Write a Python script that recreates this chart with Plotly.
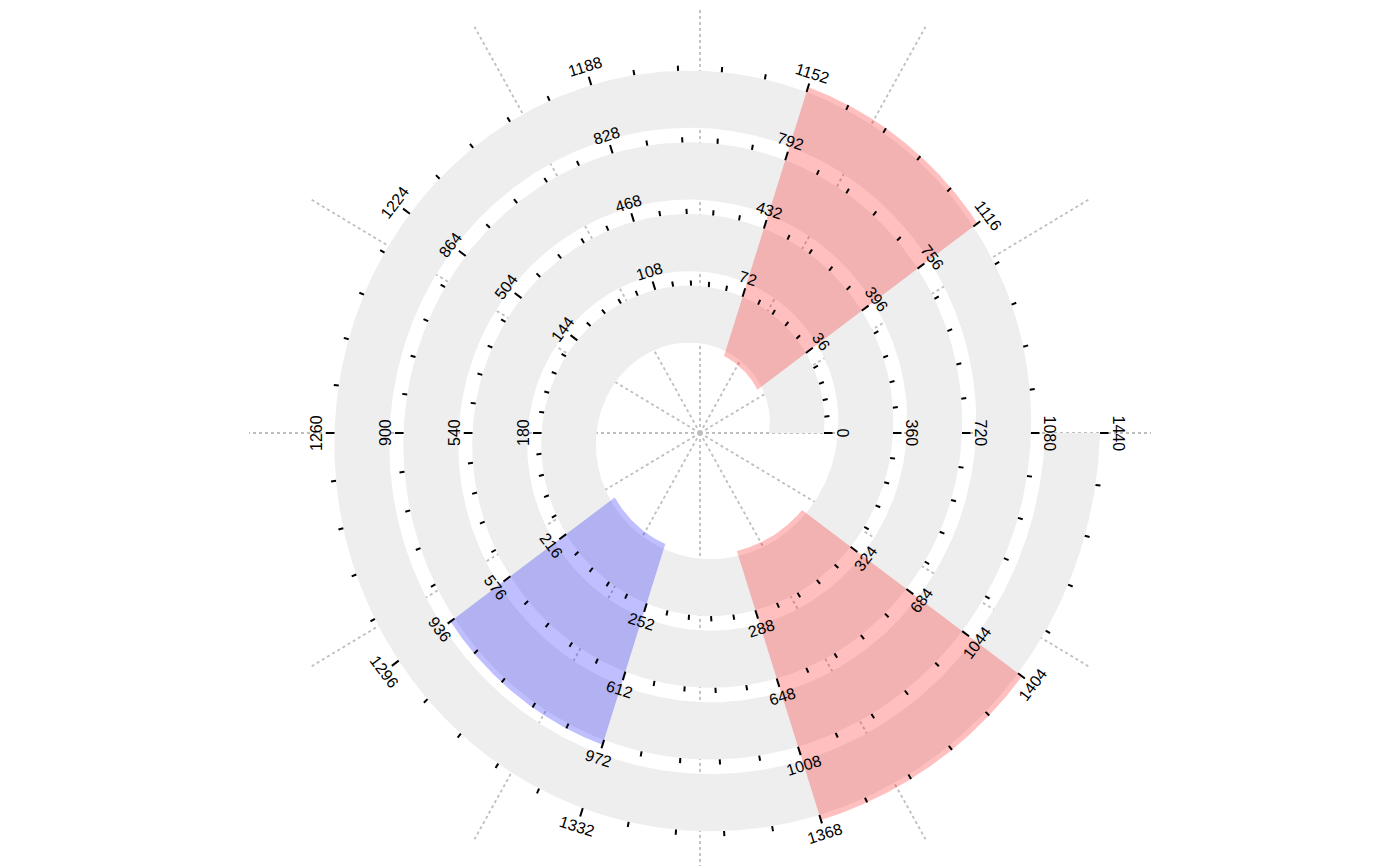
import numpy as np
import plotly.graph_objects as go

# ---------------- data ----------------
x_start, x_end = 0, 1440                      # spiral data range (4 loops of 360)
major_ticks = list(range(0, 1441, 36))        # labelled ticks
tick_labels = [str(v) for v in major_ticks]
minor_tick_step = 7.2                         # 4 minor ticks between labelled ones
grid_angles = list(range(0, 360, 30))         # dotted radial guide lines (degrees)

hl_inner_from = [36, 216, 288]                # highlighted sectors: start/end on inner loop
hl_inner_to = [72, 252, 324]
hl_outer_from = [1116, 936, 1368]             # start/end on outer loop
hl_outer_to = [1152, 972, 1404]
hl_colors = ["rgba(255,0,0,0.25)", "rgba(0,0,255,0.25)", "rgba(255,0,0,0.25)"]

# ---------------- geometry / style ----------------
PAGE_OFF = 8            # default page body margin
W, H = 1400 - PAGE_OFF, 866 - PAGE_OFF
CX, CY = 700 - PAGE_OFF, 433 - PAGE_OFF   # centre of the spiral inside the plot
R_OUT0 = 124.0          # outer edge radius of track at x=0
GROWTH = 69.0 / 360.0   # radial growth per data unit
TRACK = 55.0            # track thickness
PAD = 5.0               # highlight padding
YS = 1.04               # vertical stretch of the drawing
GRID_R = 451.0
MAJOR_LEN = 8.5
MINOR_LEN = 5.0
LABEL_OFF = 18.5


def r_out(v):
    return R_OUT0 + GROWTH * np.asarray(v, dtype=float)


def r_in(v):
    return r_out(v) - TRACK


def xy(v, r):
    t = np.radians(np.asarray(v, dtype=float))
    return r * np.cos(t), r * np.sin(t)


fig = go.Figure()

# dotted radial guide lines
gx, gy = [], []
for a in grid_angles:
    ex, ey = xy(a, GRID_R)
    gx += [0, float(ex), None]
    gy += [0, float(ey), None]
fig.add_trace(go.Scatter(x=gx, y=gy, mode="lines",
                         line=dict(color="#BEBEBE", width=1.8, dash="3px,3px"),
                         hoverinfo="skip"))

# spiral track
vs = np.linspace(x_start, x_end, 2881)
ox, oy = xy(vs, r_out(vs))
ix, iy = xy(vs[::-1], r_in(vs[::-1]))
fig.add_trace(go.Scatter(x=np.concatenate([ox, ix, ox[:1]]),
                         y=np.concatenate([oy, iy, oy[:1]]),
                         mode="lines", fill="toself", fillcolor="#EEEEEE",
                         line=dict(width=0), hoverinfo="skip"))

# highlighted sectors
for a1, a2, b1, b2, col in zip(hl_inner_from, hl_inner_to, hl_outer_from, hl_outer_to, hl_colors):
    vin = np.linspace(a1, a2, 200)
    vout = np.linspace(b2, b1, 200)
    px1, py1 = xy(vin, r_in(vin) - PAD)
    px2, py2 = xy(vout, r_out(vout) + PAD)
    fig.add_trace(go.Scatter(x=np.concatenate([px1, px2, px1[:1]]),
                             y=np.concatenate([py1, py2, py1[:1]]),
                             mode="lines", fill="toself", fillcolor=col,
                             line=dict(width=0), hoverinfo="skip"))

# ticks
major_set = set(major_ticks)
minor_ticks = [round(v, 1) for v in np.arange(x_start, x_end + 1e-9, minor_tick_step)
               if not any(abs(v - m) < 1e-6 for m in major_set)]


def tick_trace(values, length, width):
    tx, ty = [], []
    for v in values:
        r0 = float(r_out(v))
        x0, y0 = xy(v, r0)
        x1, y1 = xy(v, r0 + length)
        tx += [float(x0), float(x1), None]
        ty += [float(y0), float(y1), None]
    return go.Scatter(x=tx, y=ty, mode="lines", line=dict(color="black", width=width),
                      hoverinfo="skip")


fig.add_trace(tick_trace(minor_ticks, MINOR_LEN, 2))
fig.add_trace(tick_trace(major_ticks, MAJOR_LEN, 2))

# tick labels
annotations = []
for v, lab in zip(major_ticks, tick_labels):
    t = np.radians(v)
    lx, ly = xy(v, float(r_out(v)) + LABEL_OFF)
    phi = np.degrees(np.arctan2(YS * np.sin(t), np.cos(t)))
    tm = v % 360
    rot = phi - 90 if tm <= 180 else phi + 90
    annotations.append(dict(x=float(lx), y=float(ly), xref="x", yref="y", text=lab,
                            showarrow=False, textangle=float(-rot),
                            xanchor="center", yanchor="middle",
                            font=dict(family="Liberation Sans, Arial, sans-serif",
                                      size=16, color="black")))

fig.update_layout(
    width=W, height=H, autosize=False,
    margin=dict(l=0, r=0, t=0, b=0),
    paper_bgcolor="white", plot_bgcolor="white",
    showlegend=False,
    annotations=annotations,
    xaxis=dict(range=[-CX, W - CX], visible=False, fixedrange=True),
    yaxis=dict(range=[-(H - CY) / YS, CY / YS], visible=False, fixedrange=True),
)

fig.write_html("out.html")
